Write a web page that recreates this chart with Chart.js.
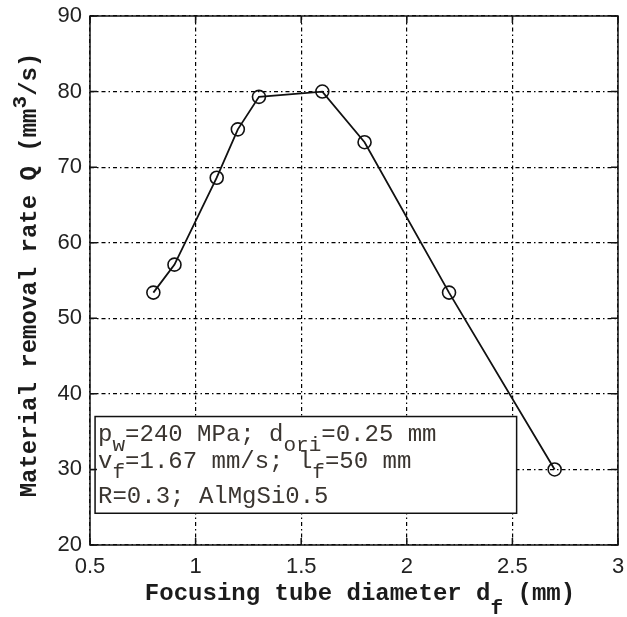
<!DOCTYPE html>
<html>
<head>
<meta charset="utf-8">
<script src="https://cdn.jsdelivr.net/npm/chart.js@4.4.1/dist/chart.umd.min.js"></script>
<style>
    html, body { margin: 0; padding: 0; background: #fff; }
    #wrap { width: 627px; height: 617px; }
</style>
</head>
<body>
<div id="wrap"><canvas id="qChart" width="627" height="617"></canvas></div>
<script>
// focusing tube diameter (mm) vs. material removal rate (mm^3/s)
const diameters = [0.8, 0.9, 1.1, 1.2, 1.3, 1.6, 1.8, 2.2, 2.7];
const removalRate = [53.4, 57.1, 68.6, 75.0, 79.3, 80.0, 73.3, 53.4, 30.0];

const xTicks = [0.5, 1, 1.5, 2, 2.5, 3];
const yTicks = [20, 30, 40, 50, 60, 70, 80, 90];

// process parameters shown in the box, [text, flag]
const infoLines = [
    [['p', 0], ['w', 1], ['=240 MPa; d', 0], ['ori', 1], ['=0.25 mm', 0]],
    [['v', 0], ['f', 1], ['=1.67 mm/s; l', 0], ['f', 1], ['=50 mm', 0]],
    [['R=0.3; AlMgSi0.5', 0]]
];
const xTitle = [['Focusing tube diameter d', 0], ['f', 1], [' (mm)', 0]];
const yTitle = [['Material removal rate Q (mm', 0], ['3', 2], ['/s)', 0]];

const points = diameters.map((d, i) => ({ x: d, y: removalRate[i] }));

const MONO = "'Liberation Mono', 'Courier New', monospace";

// draws a run of text pieces; flag 1 = subscript, 2 = superscript
function drawRich(ctx, parts, x, y, opts) {
    const big = opts.size;
    const small = Math.round(big * 0.88);
    const weight = opts.bold ? 'bold ' : '';
    let widths = parts.map(([t, f]) => {
        ctx.font = weight + (f ? small : big) + 'px ' + MONO;
        return ctx.measureText(t).width;
    });
    let total = widths.reduce((a, b) => a + b, 0);
    let cx = opts.align === 'center' ? x - total / 2 : x;
    ctx.textBaseline = 'alphabetic';
    ctx.textAlign = 'left';
    parts.forEach(([t, f], i) => {
        ctx.font = weight + (f ? small : big) + 'px ' + MONO;
        let dy = f === 1 ? opts.subDrop : (f === 2 ? -opts.supRise : 0);
        ctx.fillText(t, cx, y + dy);
        cx += widths[i];
    });
}

const framePlugin = {
    id: 'frame',
    beforeDatasetsDraw(chart) {
        const { ctx, scales: { x, y } } = chart;
        // parameter box, anchored in data units
        const left = x.getPixelForValue(0.524);
        const right = x.getPixelForValue(2.52);
        const top = y.getPixelForValue(37.0);
        const bottom = y.getPixelForValue(24.2);
        ctx.save();
        ctx.fillStyle = '#fff';
        ctx.fillRect(left, top, right - left, bottom - top);
        ctx.strokeStyle = '#111';
        ctx.lineWidth = 1.5;
        ctx.strokeRect(left, top, right - left, bottom - top);
        ctx.fillStyle = '#3a3530';
        const baselines = [441, 468, 503];
        infoLines.forEach((line, i) => {
            drawRich(ctx, line, left + 3, baselines[i], { size: 24, subDrop: 10, supRise: 0 });
        });
        ctx.restore();
    },
    afterDraw(chart) {
        const { ctx, chartArea: a, scales: { x, y } } = chart;
        ctx.save();
        ctx.strokeStyle = '#111';
        ctx.lineWidth = 1.5;
        // inward ticks on all four sides
        const tl = 7;
        ctx.beginPath();
        xTicks.forEach(v => {
            const px = x.getPixelForValue(v);
            ctx.moveTo(px, a.bottom); ctx.lineTo(px, a.bottom - tl);
            ctx.moveTo(px, a.top); ctx.lineTo(px, a.top + tl);
        });
        yTicks.forEach(v => {
            const py = y.getPixelForValue(v);
            ctx.moveTo(a.left, py); ctx.lineTo(a.left + tl, py);
            ctx.moveTo(a.right, py); ctx.lineTo(a.right - tl, py);
        });
        ctx.stroke();
        ctx.strokeRect(a.left, a.top, a.right - a.left, a.bottom - a.top);

        // axis titles
        ctx.fillStyle = '#1b1b1b';
        drawRich(ctx, xTitle, (a.left + a.right) / 2 + 6, 600, { size: 24, bold: true, subDrop: 14, supRise: 0, align: 'center' });
        ctx.translate(36, 275);
        ctx.rotate(-Math.PI / 2);
        drawRich(ctx, yTitle, 0, 0, { size: 24, bold: true, subDrop: 0, supRise: 10, align: 'center' });
        ctx.restore();
    }
};

const gridDash = [4, 3, 1.5, 3];
const tickFont = { family: "'Liberation Sans', Arial, sans-serif", size: 22 };

new Chart(document.getElementById('qChart'), {
    type: 'line',
    data: {
        datasets: [{
            data: points,
            borderColor: '#111',
            borderWidth: 1.8,
            pointStyle: 'circle',
            pointRadius: 6.5,
            pointBorderWidth: 1.6,
            pointBorderColor: '#111',
            pointBackgroundColor: 'rgba(0,0,0,0)',
            tension: 0,
            fill: false
        }]
    },
    options: {
        responsive: false,
        animation: false,
        events: [],
        layout: { padding: { top: 16, right: 9, left: 0, bottom: 0 } },
        plugins: { legend: { display: false }, tooltip: { enabled: false } },
        scales: {
            x: {
                type: 'linear',
                min: 0.5,
                max: 3,
                afterFit(scale) {
                    scale.height = 72;
                    scale.paddingLeft = 0;
                    scale.paddingRight = 0;
                },
                afterBuildTicks(scale) { scale.ticks = xTicks.map(v => ({ value: v })); },
                ticks: {
                    font: tickFont,
                    color: '#222',
                    padding: 9,
                    callback: v => String(v)
                },
                grid: { color: '#000', lineWidth: 1.2, drawTicks: false },
                border: { display: false, dash: gridDash }
            },
            y: {
                min: 20,
                max: 90,
                afterFit(scale) {
                    scale.width = 90;
                    scale.paddingTop = 0;
                    scale.paddingBottom = 0;
                },
                afterBuildTicks(scale) { scale.ticks = yTicks.map(v => ({ value: v })); },
                ticks: {
                    font: tickFont,
                    color: '#222',
                    padding: 8,
                    callback: v => String(v)
                },
                grid: { color: '#000', lineWidth: 1.2, drawTicks: false },
                border: { display: false, dash: gridDash }
            }
        }
    },
    plugins: [framePlugin]
});
</script>
</body>
</html>
